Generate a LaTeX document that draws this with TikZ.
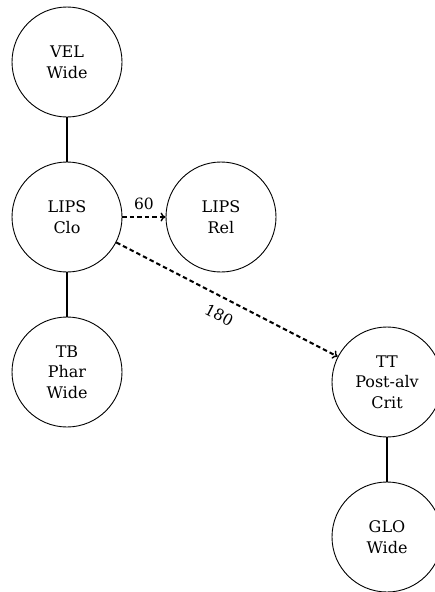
\documentclass[tikz,border=0pt]{standalone}
\usepackage{fontspec}
\setmainfont{DejaVu Serif}
\usetikzlibrary{arrows.meta}
\begin{document}
\begin{tikzpicture}[x=1pt,y=-1pt,
  gest/.style={circle, draw, line width=0.9pt, minimum size=110pt, inner sep=0pt,
    align=center, font=\fontsize{16}{20.7}\selectfont},
  link/.style={line width=2pt},
  phase/.style={line width=2pt, dash pattern=on 4.5pt off 3pt, -{To[length=5pt,width=9pt,line width=1.4pt]}},
  lbl/.style={font=\fontsize{15.5}{18}\selectfont}]
  \useasboundingbox (0,0) rectangle (435,592);
  \clip (0,0) rectangle (435,592);
  % gesture nodes
  \node[gest] (vel)  at (67,62)   {VEL\\Wide};
  \node[gest] (lipc) at (67,217)  {LIPS\\Clo};
  \node[gest] (lipr) at (221,217) {LIPS\\Rel};
  \node[gest] (tb)   at (67,372)  {TB\\Phar\\Wide};
  \node[gest] (tt)   at (387,382) {TT\\Post-alv\\Crit};
  \node[gest] (glo)  at (387,537) {GLO\\Wide};
  % association lines
  \draw[link] (vel) -- (lipc);
  \draw[link] (lipc) -- (tb);
  \draw[link] (tt) -- (glo);
  % phasing relations
  \draw[phase] (lipc) -- node[lbl, above=3pt] {60} (lipr);
  \draw[phase] (lipc) -- node[lbl, sloped, below=7pt, pos=0.5] {180} (tt);
\end{tikzpicture}
\end{document}
